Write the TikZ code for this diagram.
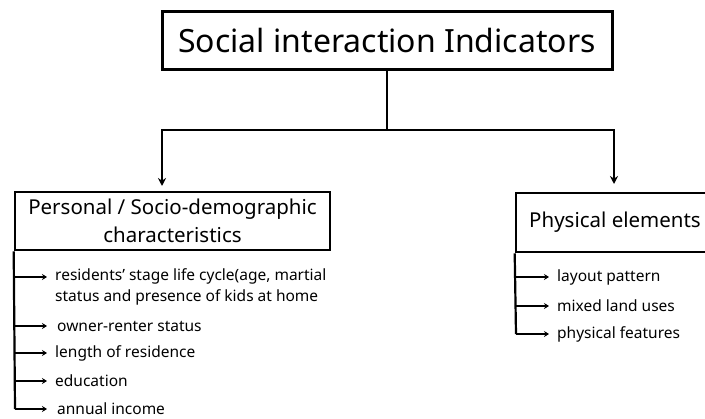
\documentclass[tikz,border=0pt]{standalone}
\usepackage{fontspec}
\setmainfont{Noto Sans}
\usetikzlibrary{arrows.meta}
\begin{document}
\begin{tikzpicture}[x=1pt,y=-1pt,
  box/.style={draw,line width=2.6pt,rectangle,inner sep=0pt,align=center},
  conn/.style={line width=2.6pt},
  arr/.style={conn,-{Stealth[length=8pt,width=8pt]}},
  lst/.style={draw=black,line width=2.2pt},
  larr/.style={draw=black,line width=2pt,-{Stealth[length=5pt,width=6pt]}},
  itemtext/.style={anchor=west,inner sep=0pt,font=\fontsize{15.5}{21}\selectfont,align=left}]
\useasboundingbox (0,0) rectangle (705,419);
\begin{scope}
\clip (0,0) rectangle (705,419);
% boxes
\node[box,line width=3pt,minimum width=450pt,minimum height=58pt,font=\fontsize{32}{38}\selectfont] (title) at (387,41) {Social interaction Indicators};
\node[box,minimum width=315pt,minimum height=58pt,font=\fontsize{20.5}{28}\selectfont] (pers) at (172.5,221) {Personal / Socio-demographic\\characteristics};
\node[box,minimum width=198pt,minimum height=59pt,font=\fontsize{20.5}{26}\selectfont] (phys) at (615,222.5) {Physical elements};
\end{scope}
% main connectors
\coordinate (jc) at (387,130);
\coordinate (jl) at (162,130);
\coordinate (jr) at (614,130);
\coordinate (tl) at (162,186);
\coordinate (tr) at (614,184);
\draw[conn] (title.south) -- (jc);
\draw[conn,line cap=rect] (jl) -- (jr);
\draw[arr] (jl) -- (tl);
\draw[arr] (jr) -- (tr);
% personal list
\coordinate (pb) at (15,409);
\draw[lst] (pers.south west) -- (pb);
\coordinate (p1) at (15,277);
\coordinate (p2) at (15,326);
\coordinate (p3) at (15,353);
\coordinate (p4) at (15,381);
\coordinate (e1) at (47,277);
\coordinate (e2) at (47,326);
\coordinate (e3) at (47,353);
\coordinate (e4) at (47,381);
\coordinate (e5) at (47,409);
\node[itemtext] (i1) at (55,287) {residents' stage life cycle(age, martial\\status and presence of kids at home};
\node[itemtext] (i2) at (57,326) {owner-renter status};
\node[itemtext] (i3) at (55,353) {length of residence};
\node[itemtext] (i4) at (55,381) {education};
\node[itemtext] (i5) at (57,409) {annual income};
\draw[larr] (p1) -- (e1);
\draw[larr] (p2) -- (e2);
\draw[larr] (p3) -- (e3);
\draw[larr] (p4) -- (e4);
\draw[larr] (pb) -- (e5);
% physical list
\coordinate (qb) at (516,334);
\draw[lst] (phys.south west) -- (qb);
\coordinate (q1) at (516,277);
\coordinate (q2) at (516,306);
\coordinate (f1) at (549,277);
\coordinate (f2) at (549,306);
\coordinate (f3) at (549,334);
\node[itemtext] (k1) at (557,277) {layout pattern};
\node[itemtext] (k2) at (557,306) {mixed land uses};
\node[itemtext] (k3) at (557,334) {physical features};
\draw[larr] (q1) -- (f1);
\draw[larr] (q2) -- (f2);
\draw[larr] (qb) -- (f3);
\end{tikzpicture}
\end{document}
